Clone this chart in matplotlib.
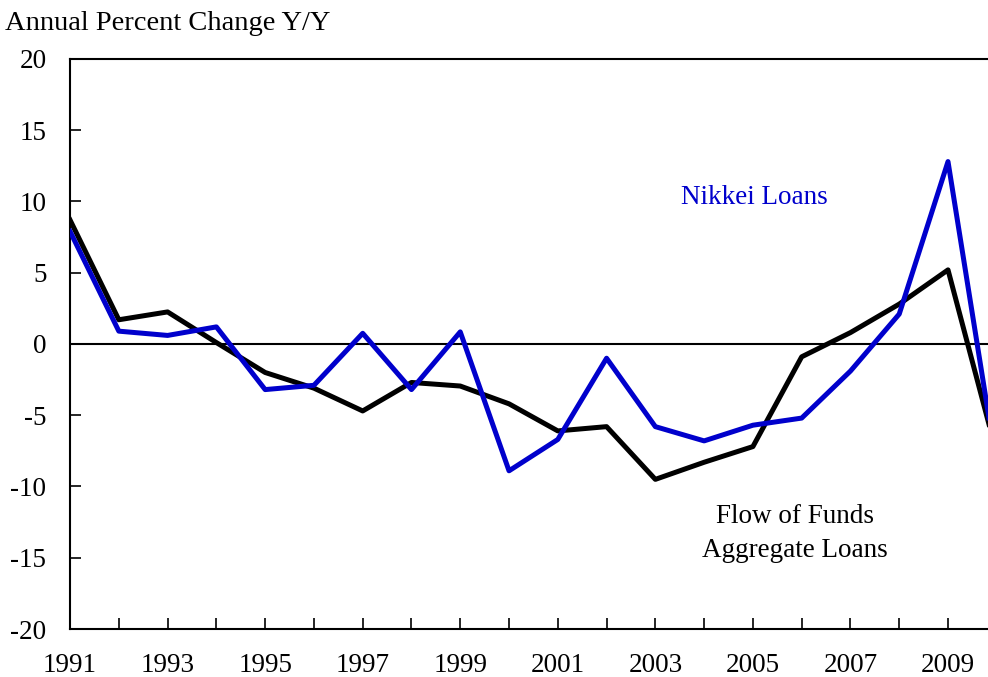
import matplotlib
matplotlib.use("Agg")
import matplotlib.pyplot as plt

# annual percent change
years = [1991, 1992, 1993, 1994, 1995, 1996, 1997, 1998, 1999, 2000,
         2001, 2002, 2003, 2004, 2005, 2006, 2007, 2008, 2009, 2010]
flow_of_funds = [8.7, 1.7, 2.25, 0.1, -2.0, -3.1, -4.7, -2.7, -2.95, -4.2,
                 -6.1, -5.8, -9.5, -8.3, -7.2, -0.9, 0.8, 2.8, 5.2, -7.7]
nikkei = [7.9, 0.9, 0.6, 1.2, -3.2, -2.9, 0.75, -3.2, 0.85, -8.9,
          -6.7, -1.0, -5.8, -6.8, -5.7, -5.2, -1.9, 2.1, 12.8, -8.6]
year_labels = [1991, 1993, 1995, 1997, 1999, 2001, 2003, 2005, 2007, 2009]
y_ticks = [20, 15, 10, 5, 0, -5, -10, -15, -20]

plt.rcParams['font.family'] = ['Liberation Serif', 'DejaVu Serif']

fig = plt.figure(figsize=(9.88, 6.77), dpi=100)
ax = fig.add_axes([0.0709, 0.0709, 0.9291, 0.842])

ax.axhline(0, color='black', linewidth=1.5, zorder=1)
ax.plot(years, flow_of_funds, color='black', linewidth=3.6, zorder=2)
ax.plot(years, nikkei, color='#0000CC', linewidth=3.6, zorder=3)

ax.set_xlim(1991, 2009.82)
ax.set_ylim(-20, 20)

ax.set_xticks(years[:-1])
ax.set_xticklabels([str(y) if y in year_labels else '' for y in years[:-1]])
ax.set_yticks(y_ticks)
ax.set_yticklabels([str(v) for v in y_ticks])

ax.tick_params(axis='both', direction='in', length=8, width=1.2,
               labelsize=19.5, colors='black')
ax.tick_params(axis='x', pad=17)
ax.tick_params(axis='y', pad=17)

for side in ['left', 'bottom', 'top']:
    ax.spines[side].set_linewidth(1.5)
ax.spines['right'].set_visible(False)

fig.text(0.005, 0.966, 'Annual Percent Change Y/Y', fontsize=20.5,
         ha='left', va='center')
ax.text(2005.04, 10.3, 'Nikkei Loans', color='#0000CC', fontsize=19.5,
        ha='center', va='center')
ax.text(2005.86, -13.3, 'Flow of Funds\nAggregate Loans', color='black',
        fontsize=19.5, ha='center', va='center', linespacing=1.45)

fig.savefig('out.png', dpi=100)
